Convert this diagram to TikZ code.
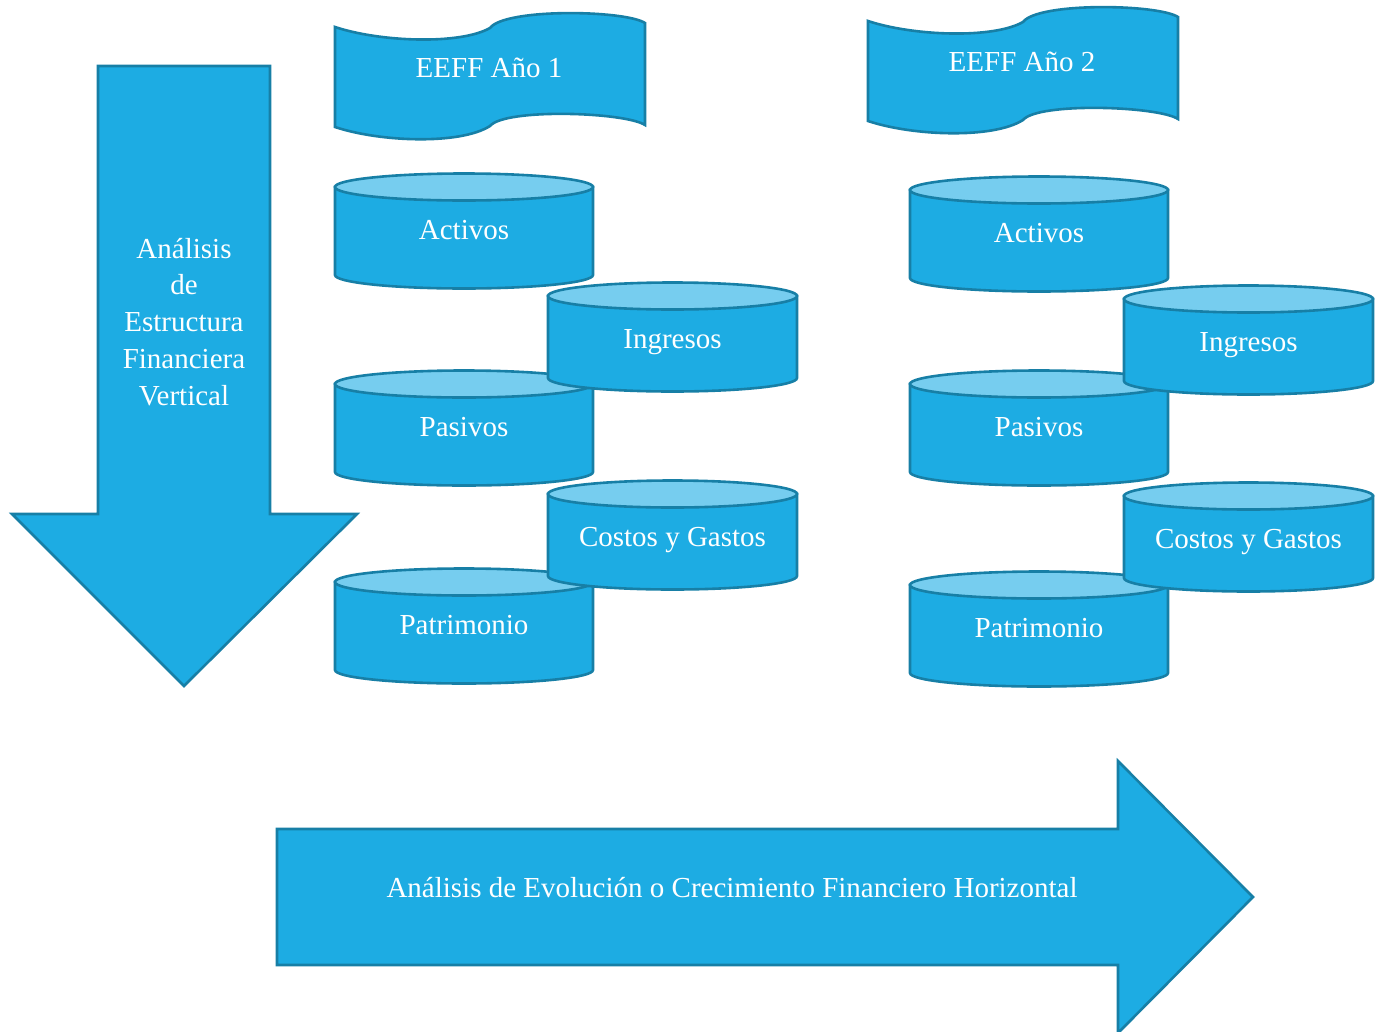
\documentclass[tikz,border=0pt]{standalone}
\usepackage{fontspec}
\setmainfont{Liberation Serif}
\definecolor{fillc}{HTML}{1DACE3}
\definecolor{topc}{HTML}{76CDEF}
\definecolor{edgec}{HTML}{177FA6}
\newcommand\mycyl[6]{%
  \pgfmathsetmacro\cylcx{(#2+#3)/2}%
  \pgfmathsetmacro\cylrx{(#3-#2)/2}%
  \pgfmathsetmacro\cylby{#4+#5}%
  \filldraw[shapefill] (#2,#4) -- (#2,\cylby) arc[start angle=180,end angle=0,x radius=\cylrx,y radius=13.5] -- (#3,#4) -- cycle;
  \filldraw[shapefill,fill=topc] (\cylcx,#4) ellipse[x radius=\cylrx,y radius=13.5];
  \node[lbl,anchor=base] (#1) at (\cylcx,#4+52) {#6};
}
\begin{document}
\begin{tikzpicture}[x=1pt,y=-1pt,
  shapefill/.style={fill=fillc,draw=edgec,line width=2.6pt,line join=miter},
  lbl/.style={text=white,font=\fontsize{29}{36.7}\selectfont,inner sep=0pt}]
\useasboundingbox (0,0) rectangle (1376,1031);
\clip (0,0) rectangle (1376,1031);
% vertical arrow
\filldraw[shapefill] (98,66) -- (270,66) -- (270,514) -- (357,514) -- (184,686) -- (12,514) -- (98,514) -- cycle;
\node[lbl,align=center,anchor=base] (vert) at (184,405) {Análisis\\de\\Estructura\\Financiera\\Vertical};
% horizontal arrow
\filldraw[shapefill] (277,829) -- (1118,829) -- (1118,761) -- (1253,897) -- (1118,1033) -- (1118,965) -- (277,965) -- cycle;
\node[lbl,anchor=base] (horiz) at (732,897) {Análisis de Evolución o Crecimiento Financiero Horizontal};
% banners
\foreach \dx/\dy/\nm/\tx in {0/0/b1/EEFF Año 1, 533/-6/b2/EEFF Año 2}{
  \begin{scope}[shift={(\dx,\dy)}]
  \filldraw[shapefill] (335,27) .. controls (380,42) and (460,45) .. (490,28)
     .. controls (505,8) and (625,10) .. (645,23) -- (645,125)
     .. controls (625,112) and (505,108) .. (490,126)
     .. controls (460,145) and (380,142) .. (335,127) -- cycle;
  \node[lbl,anchor=base] (\nm) at (489,77) {\tx};
  \end{scope}
}
% left column cylinders
\mycyl{actA}{335}{593}{187}{88}{Activos}
\mycyl{pasA}{335}{593}{384}{88}{Pasivos}
\mycyl{patA}{335}{593}{582}{88}{Patrimonio}
\mycyl{ingA}{548}{797}{296}{82}{Ingresos}
\mycyl{cosA}{548}{797}{494}{82}{Costos y Gastos}
% right column cylinders
\mycyl{actB}{910}{1168}{190}{88}{Activos}
\mycyl{pasB}{910}{1168}{384}{88}{Pasivos}
\mycyl{patB}{910}{1168}{585}{88}{Patrimonio}
\mycyl{ingB}{1124}{1373}{299}{82}{Ingresos}
\mycyl{cosB}{1124}{1373}{496}{82}{Costos y Gastos}
\end{tikzpicture}
\end{document}
